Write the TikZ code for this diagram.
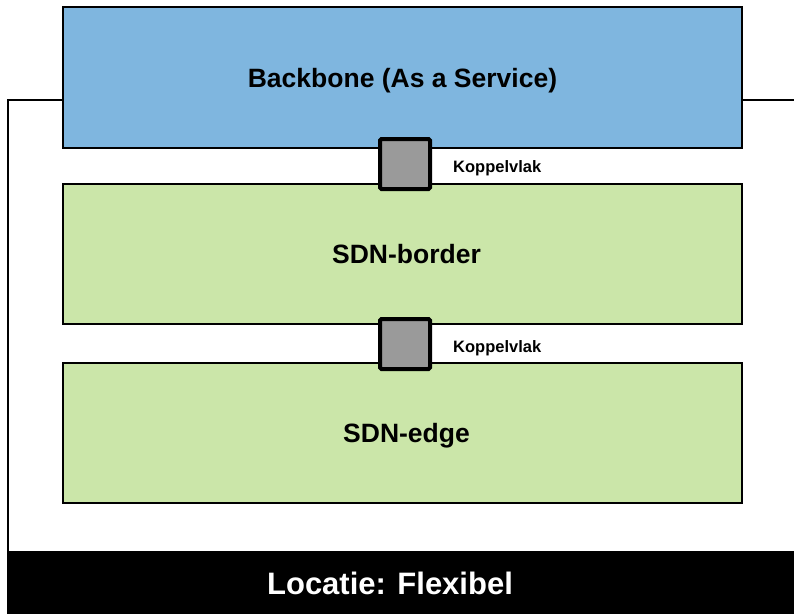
\documentclass[tikz,border=0pt]{standalone}
\usepackage{fontspec}
\setmainfont{Liberation Sans}
\definecolor{layerblue}{HTML}{7FB6DF}
\definecolor{layergreen}{HTML}{CBE6A9}
\definecolor{portgray}{HTML}{9A9A9A}
\begin{document}
\begin{tikzpicture}[x=1pt,y=-1pt,
  layer/.style={draw=black, line width=1.5pt, inner sep=0pt, text height=19pt, text depth=0pt,
    minimum width=679pt, minimum height=140pt, font=\bfseries\fontsize{26.5}{30}\selectfont},
  port/.style={draw=black, fill=portgray, line width=4pt, rounded corners=1.5pt,
    minimum width=50pt, minimum height=50pt, inner sep=0pt},
  portlabel/.style={anchor=west, inner sep=0pt, font=\bfseries\fontsize{16.5}{18}\selectfont}]
  \useasboundingbox (0,0) rectangle (794,614);

  % site frame and location bar
  \draw[line width=1.5pt] (63,100) -- (8,100) -- (8,551);
  \draw[line width=1.5pt] (742,100) -- (800,100);
  \node[fill=black, minimum width=790pt, minimum height=63pt, inner sep=0pt]
    (bar) at (402,582.5) {};
  \node[text=white, font=\bfseries\fontsize{31}{34}\selectfont] (loc) at (390,583)
    {Locatie: Flexibel};

  % layers
  \node[layer, fill=layerblue, minimum height=141pt, text height=20pt] (backbone) at (402.5,77.5)
    {Backbone (As a Service)};
  \node[layer, fill=layergreen] (border) at (402.5,254) {\hspace*{8pt}SDN-border};
  \node[layer, fill=layergreen, text height=18pt] (edge) at (402.5,433) {\hspace*{8pt}SDN-edge};

  % interfaces between layers
  \node[port] (k1) at (405,164) {};
  \node[port] (k2) at (405,344) {};
  \node[portlabel] (k1l) at (453,168.5) {Koppelvlak};
  \node[portlabel] (k2l) at (453,348.5) {Koppelvlak};
\end{tikzpicture}
\end{document}
